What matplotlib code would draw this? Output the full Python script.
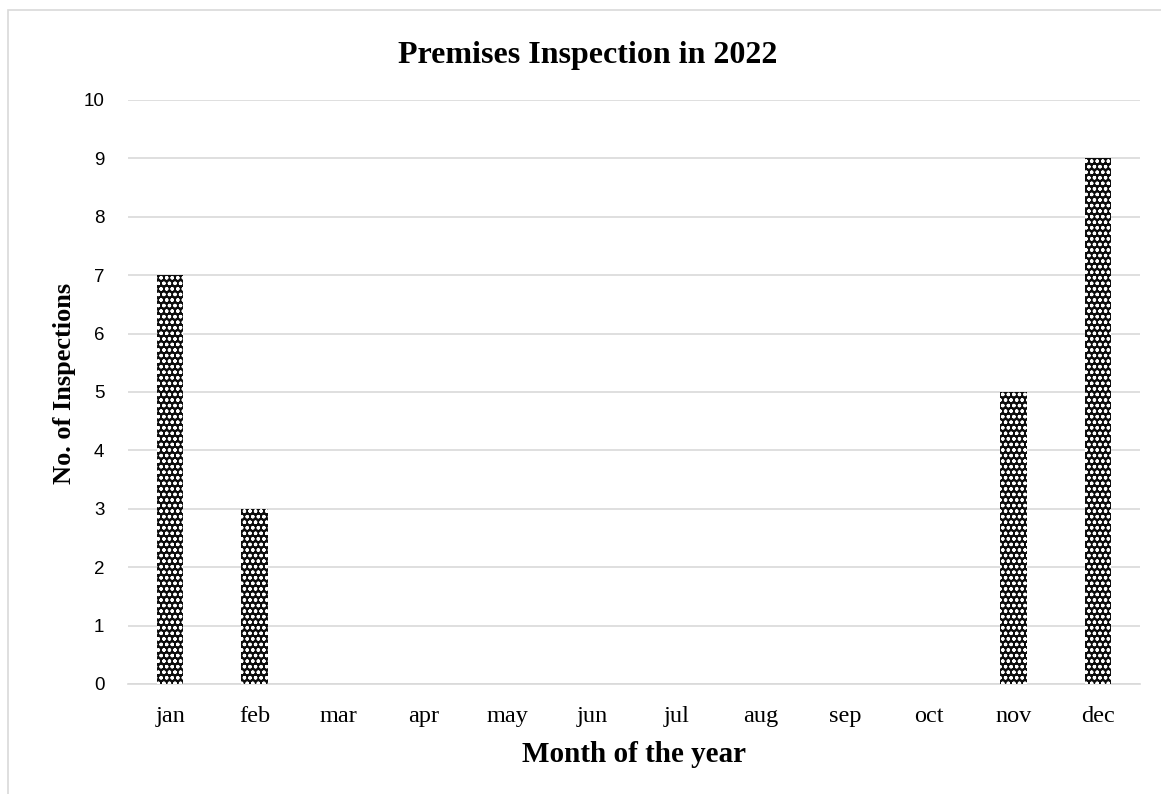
import matplotlib
matplotlib.use('Agg')
import matplotlib.pyplot as plt
from matplotlib.patches import Rectangle

# Данные графика
months = ['jan', 'feb', 'mar', 'apr', 'may', 'jun',
          'jul', 'aug', 'sep', 'oct', 'nov', 'dec']
inspections = [7, 3, 0, 0, 0, 0, 0, 0, 0, 0, 5, 9]
y_ticks = list(range(0, 11))

plt.rcParams['hatch.color'] = 'white'
plt.rcParams['hatch.linewidth'] = 0.9

fig = plt.figure(figsize=(11.61, 7.94), dpi=100)
ax = fig.add_axes([128 / 1161, 1 - 684 / 794, (1140 - 128) / 1161, (684 - 100) / 794])

# Рамка вокруг диаграммы (видны только верх и левый край)
fig.patches.append(Rectangle((8 / 1161, -0.1), 1.2, 1 - 10 / 794 + 0.1,
                             transform=fig.transFigure, fill=False,
                             edgecolor='#d9d9d9', linewidth=1.2))

x = list(range(len(months)))
ax.bar(x, inspections, width=0.31, color='#0d0d0d', edgecolor='white',
       hatch='ooo', linewidth=0, zorder=3)

ax.set_xlim(-0.5, len(months) - 0.5)
ax.set_ylim(0, 10)
ax.set_yticks(y_ticks)
ax.set_yticklabels([str(v) for v in y_ticks], fontsize=13.5,
                   family=['Liberation Sans', 'DejaVu Sans'])
ax.set_xticks(x)
ax.set_xticklabels(months, fontsize=17.5, family='Liberation Serif')
ax.tick_params(axis='both', length=0)
ax.tick_params(axis='y', pad=17)
ax.tick_params(axis='x', pad=16)

ax.grid(axis='y', color='#d9d9d9', linewidth=1.2, zorder=0)
for s in ['top', 'right', 'left']:
    ax.spines[s].set_visible(False)
ax.spines['bottom'].set_color('#d9d9d9')
ax.spines['bottom'].set_linewidth(1.2)

fig.text(588 / 1161, 1 - 55 / 794, 'Premises Inspection in 2022', ha='center', va='center',
         fontsize=23, fontweight='bold', family='Liberation Serif')
fig.text(634 / 1161, 1 - 755 / 794, 'Month of the year', ha='center', va='center',
         fontsize=21, fontweight='bold', family='Liberation Serif')
fig.text(65 / 1161, 1 - 383 / 794, 'No. of Inspections', rotation=90, ha='center',
         va='center', fontsize=19, fontweight='bold', family='Liberation Serif')

fig.savefig('out.png', dpi=100)
